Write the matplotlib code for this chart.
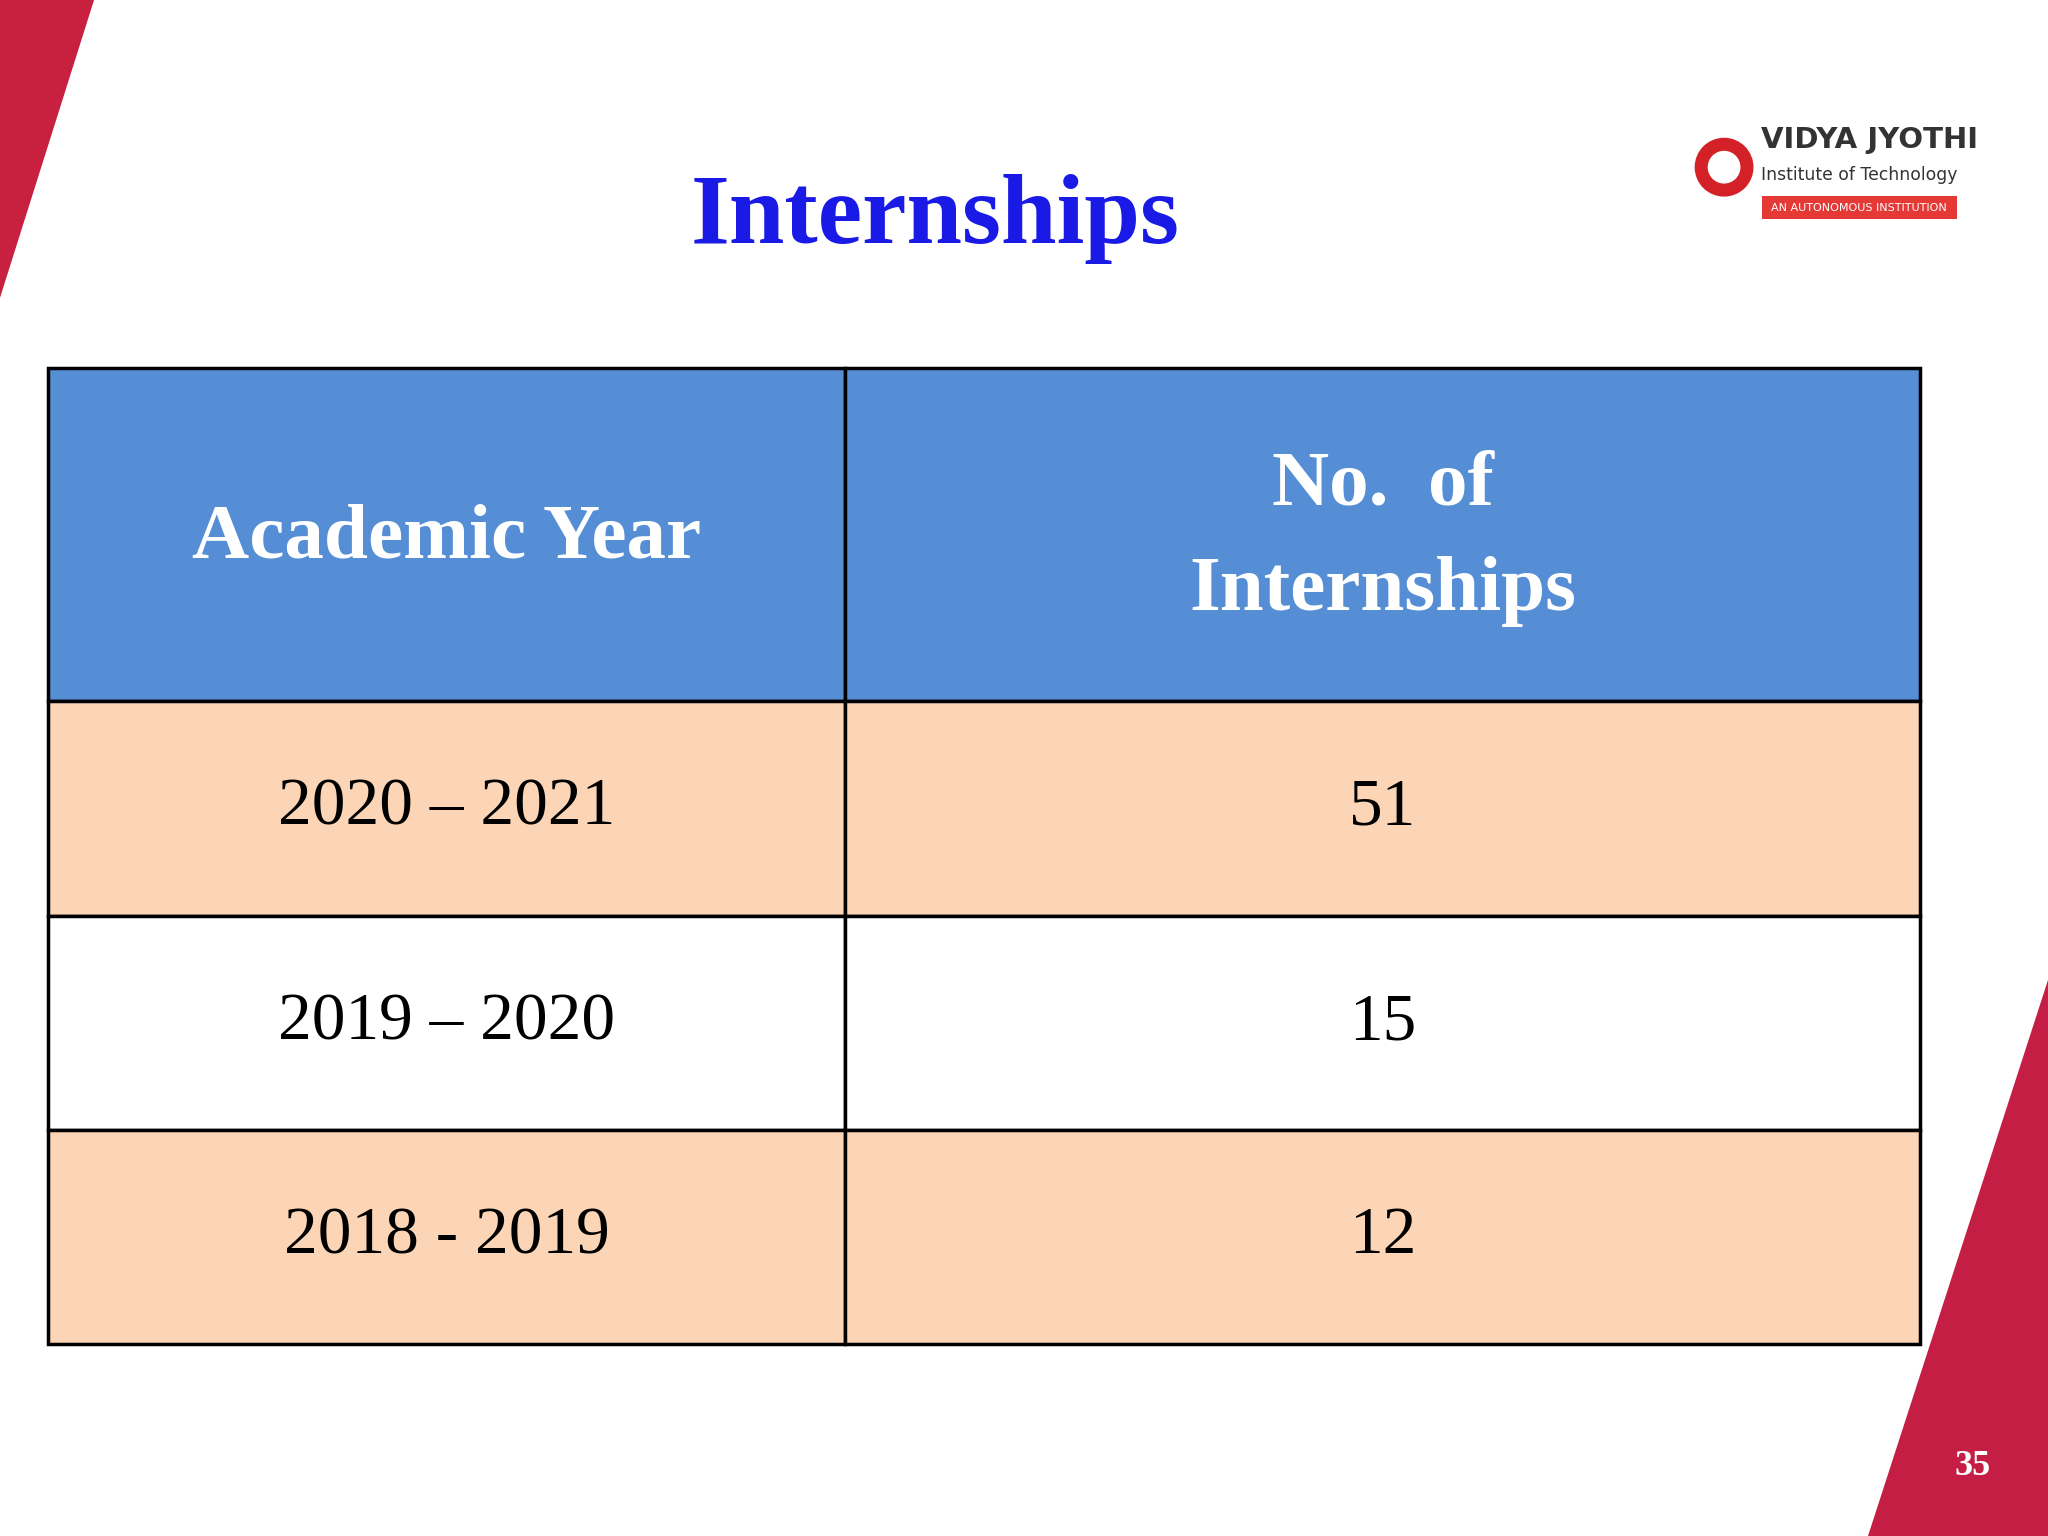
import matplotlib
matplotlib.use("Agg")
import matplotlib.pyplot as plt
from matplotlib.patches import Rectangle, Polygon, Circle

title = "Internships"
headers = ["Academic Year", "No.  of\nInternships"]
years = ["2020 – 2021", "2019 – 2020", "2018 - 2019"]
counts = ["51", "15", "12"]

W, H = 1568, 1176
fig = plt.figure(figsize=(20.48, 15.36), dpi=100)
ax = fig.add_axes([0, 0, 1, 1])
ax.set_xlim(0, W); ax.set_ylim(H, 0); ax.axis("off")
serif = ["Liberation Serif", "DejaVu Serif"]

# decorative triangles
ax.add_patch(Polygon([(0, 0), (72, 0), (0, 228)], color="#C8203F", lw=0))
ax.add_patch(Polygon([(1568, 750), (1568, 1176), (1430, 1176)], color="#C41E45", lw=0))
ax.text(1510, 1123, "35", color="white", fontsize=26, fontweight="bold", family=serif, ha="center", va="center")

# title
ax.text(716, 168, title, color="#1A1AE6", fontsize=72, fontweight="bold", family=serif, ha="center", va="center")

# logo
ax.add_patch(Circle((1320, 128), 22, color="#D42027"))
ax.add_patch(Circle((1320, 128), 12, color="white"))
ax.text(1348, 107, "VIDYA JYOTHI", fontsize=21, fontweight="bold", family="DejaVu Sans", color="#333333", va="center")
ax.text(1348, 134, "Institute of Technology", fontsize=12.4, color="#333333", va="center", family="DejaVu Sans")
ax.add_patch(Rectangle((1349, 150), 149, 18, color="#E53935", lw=0))
ax.text(1423, 159, "AN AUTONOMOUS INSTITUTION", fontsize=8, color="white", ha="center", va="center")

# table
xs = [37, 647, 1470]
ys = [282, 537, 701, 865, 1029]
fills = ["#558ED5", "#FBD5B5", "#FFFFFF", "#FBD5B5"]
for r in range(4):
    for c in range(2):
        ax.add_patch(Rectangle((xs[c], ys[r]), xs[c+1]-xs[c], ys[r+1]-ys[r],
                               facecolor=fills[r], edgecolor="black", lw=2.5))
for c in range(2):
    ax.text((xs[c]+xs[c+1])/2, (ys[0]+ys[1])/2 + 3, headers[c], color="white", fontsize=57,
            fontweight="bold", family=serif, ha="center", va="center", linespacing=1.65)
for r in range(3):
    yc = (ys[r+1]+ys[r+2])/2
    ax.text((xs[0]+xs[1])/2, yc, years[r], fontsize=48.5, family=serif, ha="center", va="center")
    ax.text((xs[1]+xs[2])/2, yc, counts[r], fontsize=48.5, family=serif, ha="center", va="center")

fig.savefig("out.png", dpi=100)
